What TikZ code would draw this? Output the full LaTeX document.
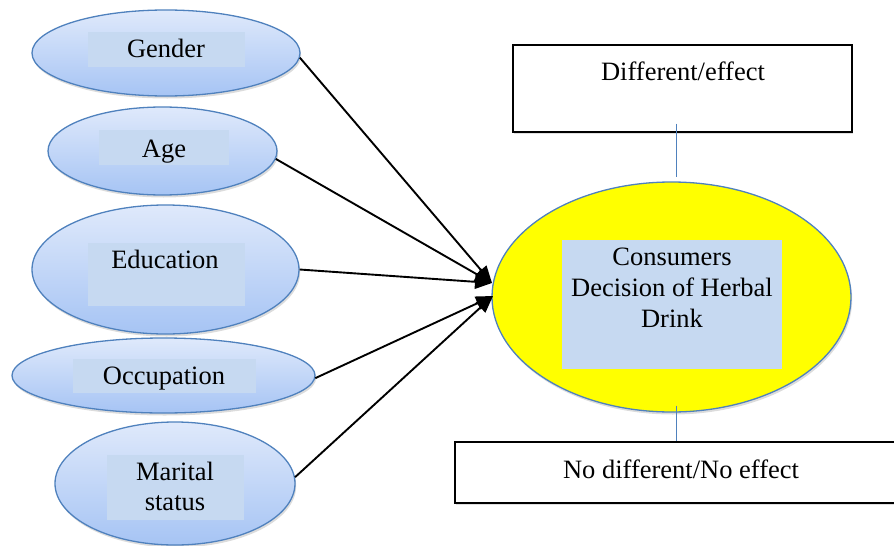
\documentclass[tikz,border=0pt]{standalone}
\usepackage{fontspec}
\setmainfont{Liberation Serif}
\usetikzlibrary{shapes.geometric,arrows.meta,shadows,calc}
\definecolor{edgeblue}{HTML}{4F81BD}
\definecolor{boxblue}{HTML}{C6D9F1}
\definecolor{topblue}{HTML}{DFE9FB}
\definecolor{botblue}{HTML}{A6C4F4}
\definecolor{coreyellow}{HTML}{FFFF00}
\begin{document}
\begin{tikzpicture}[x=1pt,y=-1pt,
  softshadow/.style={drop shadow={opacity=0.28,shadow xshift=1.2pt,shadow yshift=-2.5pt}},
  factor/.style={ellipse,draw=edgeblue,line width=1.3pt,top color=topblue,bottom color=botblue,
    inner sep=0pt,softshadow},
  core/.style={ellipse,draw=edgeblue,line width=1.3pt,fill=coreyellow,inner sep=0pt,softshadow},
  tbox/.style={rectangle,fill=boxblue,inner sep=0pt},
  outcome/.style={rectangle,draw=black,line width=1.4pt,fill=white,inner sep=0pt,
    drop shadow={opacity=0.25,shadow xshift=1pt,shadow yshift=-1.5pt}},
  txt/.style={inner sep=0pt,anchor=base,font=\fontsize{26.5}{31}\selectfont,align=center},
  arr/.style={line width=1.9pt,-{Triangle[length=17pt,width=14pt]}},
  link/.style={draw=edgeblue,line width=0.9pt}
]
\useasboundingbox (0,0) rectangle (894,546);

% factor ellipses with their label boxes
\node[factor,minimum width=268,minimum height=86]  (gender) at (166,53) {};
\node[tbox,minimum width=157,minimum height=35]    (genderBox) at (166.5,49.5) {};
\node[txt] (genderTxt) at (166,57) {Gender};

\node[factor,minimum width=229,minimum height=88]  (age) at (162.5,151) {};
\node[tbox,minimum width=130,minimum height=35]    (ageBox) at (164,147.5) {};
\node[txt] (ageTxt) at (164,157) {Age};

\node[factor,minimum width=267,minimum height=129] (edu) at (165.5,269.5) {};
\node[tbox,minimum width=157,minimum height=63]    (eduBox) at (166.5,274.5) {};
\node[txt] (eduTxt) at (165,268) {Education};

\node[factor,minimum width=303,minimum height=75]  (occ) at (163.5,375.5) {};
\node[tbox,minimum width=183,minimum height=34]    (occBox) at (164.5,376) {};
\node[txt] (occTxt) at (164,384) {Occupation};

\node[factor,minimum width=240,minimum height=123] (mar) at (175,483.5) {};
\node[tbox,minimum width=137,minimum height=65]    (marBox) at (175.5,487.5) {};
\node[txt] (marTxt1) at (175,480) {Marital};
\node[txt] (marTxt2) at (175,510) {status};

% central construct
\node[core,minimum width=359,minimum height=230] (cons) at (671.5,297) {};
\node[tbox,minimum width=220,minimum height=129] (consBox) at (672,304.5) {};
\node[txt] (consTxt1) at (672,265) {Consumers};
\node[txt] (consTxt2) at (672,296) {Decision of Herbal};
\node[txt] (consTxt3) at (672,327) {Drink};

% outcome boxes
\node[outcome,minimum width=339,minimum height=87] (topbox) at (682.5,88.5) {};
\node[txt] (topTxt) at (683,80.7) {Different/effect};
\node[outcome,minimum width=452,minimum height=61] (botbox) at (681,472.5) {};
\node[txt] (botTxt) at (681,478) {No different/No effect};

% arrow meeting points
\coordinate (tipA) at (492,283);
\coordinate (tipB) at (493,296);

\draw[arr] (gender.-2) -- (tipA);
\draw[arr] (age.-4) -- (tipA);
\draw[arr] (edu.east) -- (tipA);
\draw[arr] (occ.-1) -- (tipB);
\draw[arr] (mar.3) -- (tipB);

% thin links to the outcomes
\draw[link] ($(topbox.south)+(-6.5,-9)$) -- ($(cons.north)+(4.5,-4)$);
\draw[link] ($(cons.south)+(4.5,-7)$) -- ($(botbox.north)+(-5,0)$);
\end{tikzpicture}
\end{document}
